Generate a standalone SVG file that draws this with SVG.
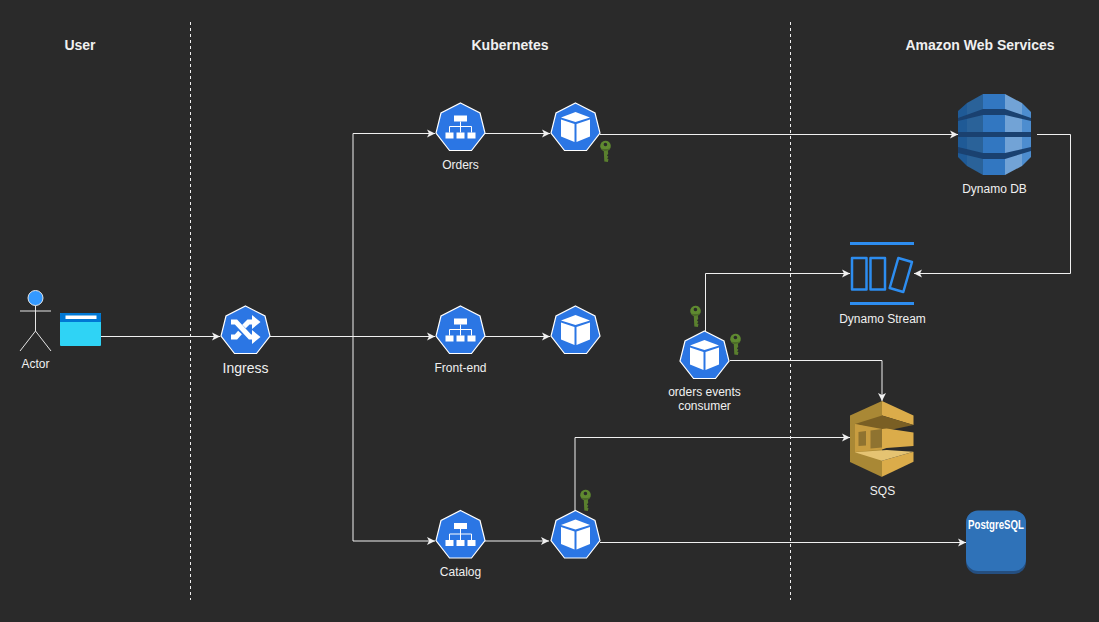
<svg xmlns="http://www.w3.org/2000/svg" width="1099" height="622" viewBox="0 0 1099 622">
<style>
text{font-family:"Liberation Sans",Arial,sans-serif;fill:#f0f0f0;font-size:12px;text-anchor:middle}
.h{font-size:14px;font-weight:bold}
.c{fill:none;stroke:#f0f0f0;stroke-width:1;marker-end:url(#a)}
.d{fill:none;stroke:#f0f0f0;stroke-width:1;stroke-dasharray:3 3}
.hx{fill:#2b76e4;stroke:#fff;stroke-width:1.2}
.w{fill:#fff}
.wl{fill:none;stroke:#fff;stroke-width:1}
</style>
<defs>
<marker id="a" markerUnits="userSpaceOnUse" markerWidth="9" markerHeight="9" refX="8" refY="4.5" orient="auto"><path d="M0,.5L8,4.5L0,8.5L2,4.5Z" fill="#f0f0f0"/></marker>
<polygon id="hp" class="hx" points="0,-24 19.5,-14 24.5,6 11,23.5 -11,23.5 -24.5,6 -19.5,-14"/>
<g id="svc"><use href="#hp"/><rect class="w" x="-6.5" y="-11.5" width="13" height="6"/><rect class="w" x="-15" y="5.5" width="8" height="6"/><rect class="w" x="-4" y="5.5" width="8" height="6"/><rect class="w" x="7" y="5.5" width="8" height="6"/><path class="wl" d="M0,-5.500V5.500M-11,5.500V-.5H11V5.500"/></g>
<g id="pod"><use href="#hp"/><path class="w" d="M0,-15L14.500,-9.500L0,-5L-14.500,-9.500Z"/><path class="w" d="M-14.500,-7.500L-1,-3V15L-14.500,9.500Z"/><path class="w" d="M14.500,-7.500L1,-3V15L14.500,9.500Z"/></g>
<g id="key"><path d="M-2,3L-2,15.500L1.500,16L2.300,13.500L1,12.500L2.300,11L1,9.500L2.300,8L2,3Z" fill="#5a7f2e"/><circle cx="0" cy="0" r="5.300" fill="#5f8a30"/><path d="M-4.500,2.500A5.300,5.300 0 0 0 4.500,2.500L2,3H-2Z" fill="#4c6b28"/><circle cx="0" cy="-1.500" r="1.800" fill="#2a2a2a"/></g>
</defs>
<rect width="1099" height="622" fill="#2a2a2a"/>
<g id="connectors">
<path class="d" d="M190.500,22V600"/>
<path class="d" d="M790.500,22V600"/>
<path class="c" d="M101,336.500H220"/>
<path class="c" d="M270,336.500H353V133.500H435"/>
<path class="c" d="M270,336.500H435"/>
<path class="c" d="M353,336.500V541H435"/>
<path class="c" d="M485,133.500H550"/>
<path class="c" d="M485,336.500H550"/>
<path class="c" d="M485,541H549"/>
<path class="c" d="M600,134.500H958"/>
<path class="c" d="M1037,134.500H1070.500V273.500H914"/>
<path class="c" d="M705.500,331V273.500H850"/>
<path class="c" d="M730,360.500H882V401"/>
<path class="c" d="M575,511V437.500H850"/>
<path class="c" d="M600,542.500H966"/>
</g>
<text class="h" x="80" y="50">User</text>
<text class="h" x="510" y="50">Kubernetes</text>
<text class="h" x="980" y="50">Amazon Web Services</text>
<g id="actor">
<circle cx="35.500" cy="298" r="7.500" fill="#3399ff" stroke="#e6e6e6"/>
<path d="M35.500,305.500V331M20,311H51M20,351L35.500,331L51,351" fill="none" stroke="#e6e6e6"/>
<text x="35.500" y="368">Actor</text>
</g>
<g id="browser">
<rect x="60" y="313" width="41" height="33" rx="1" fill="#2fd3f5"/>
<path d="M60,314a1,1 0 0 1 1,-1H100a1,1 0 0 1 1,1V322H60Z" fill="#0078d4"/>
<rect x="65.500" y="315.500" width="31" height="3.500" fill="#fff"/>
</g>
<g id="ingress">
<use href="#hp" x="245.500" y="330"/>
<path d="M231,322H236L250,337H255M231,337H236L240,332.500M244,326.500L248.500,322H255" fill="none" stroke="#fff" stroke-width="5"/>
<path class="w" d="M252,315L260.500,322L252,329ZM252,330L260.500,337L252,344Z"/>
<text x="245.500" y="373" style="font-size:14px">Ingress</text>
</g>
<g id="orders"><use href="#svc" x="460.500" y="127"/><text x="460.500" y="169">Orders</text></g>
<g id="orders-pod"><use href="#pod" x="575.500" y="127"/><use href="#key" transform="translate(605.500,146) rotate(-3)"/></g>
<g id="frontend"><use href="#svc" x="460.500" y="330"/><text x="460.500" y="372">Front-end</text></g>
<g id="frontend-pod"><use href="#pod" x="575.500" y="330"/></g>
<g id="catalog"><use href="#svc" x="460.500" y="534.500"/><text x="460.500" y="576">Catalog</text></g>
<g id="catalog-pod"><use href="#pod" x="575.500" y="534.500"/><use href="#key" transform="translate(585.500,495) rotate(-3)"/></g>
<g id="consumer"><use href="#pod" x="704.500" y="355"/><use href="#key" transform="translate(695.500,311) rotate(-3)"/><use href="#key" transform="translate(735.500,339) rotate(-3)"/>
<text x="704.500" y="396">orders events</text><text x="704.500" y="410">consumer</text></g>
<g id="dynamodb">
<polygon points="958,111 967,103 967,166 958,157" fill="#1f5a96"/>
<polygon points="967,103 983,94 983,175 967,166" fill="#2a6299"/>
<polygon points="983,94 1005,94 1005,175 983,175" fill="#3277c1"/>
<polygon points="1005,94 1022,103 1022,166 1005,175" fill="#72a3d6"/>
<polygon points="1022,103 1031,112 1031,157 1022,166" fill="#4d8dcf"/>
<polygon points="958,118 983,109 1005,109 1031,118 1031,121 1005,115 983,115 958,121" fill="#1a4170"/>
<polygon points="958,132 1031,132 1031,137 958,137" fill="#1a4170"/>
<polygon points="958,147 983,153 1005,153 1031,147 1031,151 1005,159 983,159 958,153" fill="#1a4170"/>
<text x="994.500" y="193">Dynamo DB</text>
</g>
<g id="stream">
<path d="M850,243.500H914M850,303.500H914" stroke="#2d8df0" stroke-width="3" fill="none"/>
<g fill="none" stroke="#2d8df0" stroke-width="2.500" stroke-linejoin="round">
<rect x="852" y="258" width="14.500" height="31.500"/>
<rect x="870.500" y="258" width="14.500" height="31.500"/>
<polygon points="898.300,258 912,262 903.300,292 889.700,288"/>
</g>
<text x="882.500" y="323">Dynamo Stream</text>
</g>
<g id="sqs">
<polygon points="882,401 850,415.500 850,462 882,477" fill="#a98835"/>
<polygon points="882,401 913.500,415.500 913.500,425 882,415.500" fill="#dbac4a"/>
<polygon points="882,460.700 913.500,451.700 913.500,461.700 882,476.700" fill="#dbac4a"/>
<polygon points="855,424 882,415.500 913.500,425 885,431" fill="#7a5f24"/>
<polygon points="855,424 882,429 882,449.500 855,452" fill="#c89d40"/>
<polygon points="882,429 886.500,428.500 913.500,432.500 913.500,446 886.500,448 882,449.500" fill="#dbac4a"/>
<polygon points="854.700,452.300 886.700,450 913.300,451.700 882,460.700" fill="#e5c372"/>
<polygon points="858.500,432 866,431 866,445.500 858.500,446" fill="#8f7330"/>
<polygon points="870.500,430.500 882,429 882,447.500 870.500,448.500" fill="#8f7330"/>
<text x="882.500" y="495">SQS</text>
</g>
<g id="postgres">
<rect x="966" y="511" width="60" height="63" rx="12" fill="#254f80"/>
<rect x="966" y="510.500" width="60" height="60.500" rx="12" fill="#2f72b8"/>
<text x="996" y="528.500" textLength="56" lengthAdjust="spacingAndGlyphs" style="font-size:12px;font-weight:bold;fill:#fff">PostgreSQL</text>
</g>
</svg>
